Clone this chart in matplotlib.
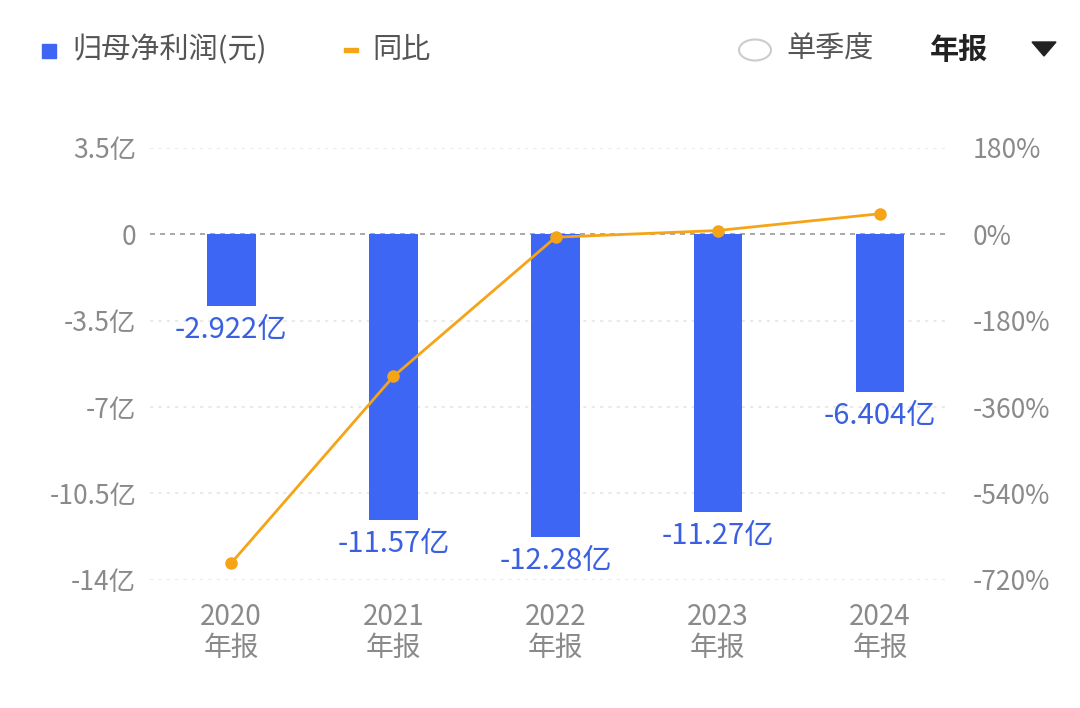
import matplotlib
matplotlib.use("Agg")
import matplotlib.pyplot as plt
from matplotlib import font_manager
from matplotlib.patches import Circle, Rectangle, Polygon

cjk = [f.name for f in font_manager.fontManager.ttflist if "CJK" in f.name]
fams = []
for pref in ["Noto Sans CJK SC", "Noto Sans CJK JP", "Noto Sans CJK TC", "Noto Sans CJK KR"]:
    if pref in cjk:
        fams.append(pref)
fams += cjk[:1] + ["DejaVu Sans"]
plt.rcParams["font.family"] = "sans-serif"
plt.rcParams["font.sans-serif"] = fams

years = ["2020", "2021", "2022", "2023", "2024"]
profit = [-2.922, -11.57, -12.28, -11.27, -6.404]
labels = ["-2.922亿", "-11.57亿", "-12.28亿", "-11.27亿", "-6.404亿"]
yoy = [-685, -296, -6, 8, 43]
left_ticks = [3.5, 0, -3.5, -7, -10.5, -14]
left_tick_labels = ["3.5亿", "0", "-3.5亿", "-7亿", "-10.5亿", "-14亿"]
right_ticks = [180, 0, -180, -360, -540, -720]
right_tick_labels = ["180%", "0%", "-180%", "-360%", "-540%", "-720%"]

blue = "#3d66f5"
orange = "#f5a418"
gray = "#8a8a8a"

fig = plt.figure(figsize=(10.8, 7.08), dpi=100)
ax = fig.add_axes([0.139, 0.181, 0.736, 0.610])
x = list(range(len(years)))
ax.bar(x, profit, width=0.3, color=blue, zorder=3)
ax.set_ylim(-14, 3.5)
ax.set_xlim(-0.5, 4.4)
for t in left_ticks:
    if t == 0:
        ax.axhline(t, color="#9a9a9a", ls=(0, (3, 3)), lw=1.2, zorder=1)
    else:
        ax.axhline(t, color="#e6e6e6", ls=(0, (2, 3)), lw=1.2, zorder=1)
ax.set_yticks(left_ticks)
ax.set_yticklabels(left_tick_labels, fontsize=19, color=gray)
ax.set_xticks(x)
ax.set_xticklabels([f"{y}\n年报" for y in years], fontsize=20, color=gray, linespacing=1.05)
ax.tick_params(axis="y", length=0, pad=10)
ax.tick_params(axis="x", length=0, pad=16)
for s in ax.spines.values():
    s.set_visible(False)
for xi, v, lab in zip(x, profit, labels):
    ax.text(xi, v - 0.35, lab, ha="center", va="top", fontsize=21, color="#3a5fe0", zorder=5)

ax2 = ax.twinx()
ax2.set_ylim(-720, 180)
ax2.plot(x, yoy, color=orange, lw=2, marker="o", ms=8, zorder=4)
ax2.set_yticks(right_ticks)
ax2.set_yticklabels(right_tick_labels, fontsize=19, color=gray)
ax2.tick_params(length=0, pad=20)
for s in ax2.spines.values():
    s.set_visible(False)

fig.patches.append(Rectangle((42/1080, 1-58/708), 14/1080, 14/708, transform=fig.transFigure, color=blue))
fig.text(72/1080, 1-50/708, "归母净利润(元)", fontsize=21, color="#555555", va="center")
fig.patches.append(Rectangle((344/1080, 1-52/708), 14/1080, 4/708, transform=fig.transFigure, color=orange))
fig.text(372/1080, 1-50/708, "同比", fontsize=21, color="#555555", va="center")
fig.patches.append(Circle((755/1080, 1-50/708), 16/1080, transform=fig.transFigure, fill=False, ec="#cccccc", lw=1.5))
fig.text(786/1080, 1-50/708, "单季度", fontsize=21, color="#555555", va="center")
fig.text(930/1080, 1-50/708, "年报", fontsize=21, color="#222222", va="center", fontweight="bold")
fig.patches.append(Polygon([(1032/1080, 1-42/708), (1056/1080, 1-42/708), (1044/1080, 1-56/708)],
                           closed=True, transform=fig.transFigure, color="#222222"))

fig.savefig("out.png", dpi=100)
